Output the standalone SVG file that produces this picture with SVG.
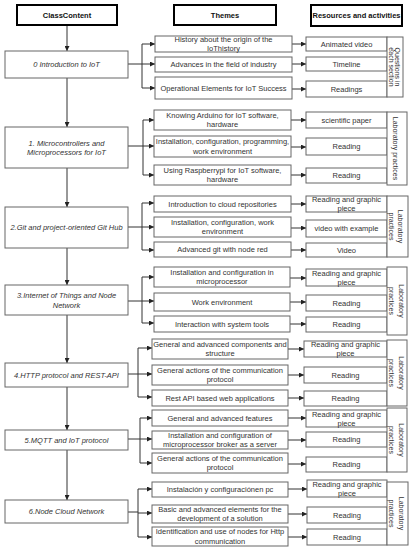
<svg xmlns="http://www.w3.org/2000/svg" width="418" height="550" viewBox="0 0 418 550">
<defs>
<marker id="ah" viewBox="0 0 6 6" refX="6" refY="3" markerWidth="5" markerHeight="5" markerUnits="userSpaceOnUse" orient="auto">
<path d="M0,0 L6,3 L0,6 z" fill="#222"/>
</marker>
<style>
.hdr rect{fill:#fff;stroke:#000;stroke-width:2}
.hdr text{font-family:"Liberation Sans",Arial,sans-serif;font-size:7.5px;font-weight:bold;fill:#111;text-anchor:middle}
.box rect{fill:#fff;stroke:#666;stroke-width:1}
.box text{font-family:"Liberation Sans",Arial,sans-serif;font-size:7.5px;fill:#333;text-anchor:middle}
.node text{font-style:italic}
.side text{font-size:7px}
.con path,.con line{fill:none;stroke:#333;stroke-width:1}
.arr{marker-end:url(#ah)}
</style>
</defs>
<rect width="418" height="550" fill="#fff"/>

<g id="headers" class="hdr">
<g id="h-class"><rect x="17" y="5" width="100" height="20"/><text x="67" y="17.7">ClassContent</text></g>
<g id="h-themes"><rect x="174" y="5" width="102" height="20"/><text x="225" y="17.7">Themes</text></g>
<g id="h-res"><rect x="311" y="5" width="91" height="21"/><text x="356.5" y="18.2">Resources and activities</text></g>
</g>

<g id="connectors" class="con">
<line class="arr" x1="67" y1="26" x2="67" y2="51"/>
<line class="arr" x1="67" y1="78" x2="67" y2="127"/>
<line class="arr" x1="67" y1="168" x2="67" y2="207"/>
<line class="arr" x1="67" y1="248" x2="67" y2="285"/>
<line class="arr" x1="67" y1="315" x2="67" y2="363"/>
<line class="arr" x1="67" y1="387" x2="67" y2="430"/>
<line class="arr" x1="67" y1="450" x2="67" y2="500"/>
<!-- row 0 -->
<path d="M128,64 H142 M142,44 V88"/>
<line class="arr" x1="142" y1="44" x2="155" y2="44"/>
<line class="arr" x1="142" y1="64" x2="155" y2="64"/>
<line class="arr" x1="142" y1="88" x2="155" y2="88"/>
<line class="arr" x1="292" y1="44" x2="306" y2="44"/>
<line class="arr" x1="292" y1="64" x2="306" y2="64"/>
<line class="arr" x1="292" y1="89" x2="306" y2="89"/>
<!-- row 1 -->
<path d="M128,146 H143 M143,120 V175"/>
<line class="arr" x1="143" y1="120" x2="154" y2="120"/>
<line class="arr" x1="143" y1="146" x2="154" y2="146"/>
<line class="arr" x1="143" y1="175" x2="154" y2="175"/>
<line class="arr" x1="291" y1="120" x2="306" y2="120"/>
<line class="arr" x1="291" y1="147" x2="306" y2="147"/>
<line class="arr" x1="291" y1="175" x2="306" y2="175"/>
<!-- row 2 -->
<path d="M128,227 H142 M142,203 V250"/>
<line class="arr" x1="142" y1="203" x2="154" y2="203"/>
<line class="arr" x1="142" y1="227" x2="154" y2="227"/>
<line class="arr" x1="142" y1="250" x2="154" y2="250"/>
<line class="arr" x1="291" y1="204" x2="306" y2="204"/>
<line class="arr" x1="291" y1="228" x2="306" y2="228"/>
<line class="arr" x1="291" y1="250" x2="306" y2="250"/>
<!-- row 3 -->
<path d="M128,301 H142 M142,277 V323"/>
<line class="arr" x1="142" y1="277" x2="154" y2="277"/>
<line class="arr" x1="142" y1="301" x2="154" y2="301"/>
<line class="arr" x1="142" y1="323" x2="154" y2="323"/>
<line class="arr" x1="290" y1="278" x2="306" y2="278"/>
<line class="arr" x1="290" y1="302" x2="306" y2="302"/>
<line class="arr" x1="290" y1="324" x2="306" y2="324"/>
<!-- row 4 -->
<path d="M128,374 H138 M138,348 V397"/>
<line class="arr" x1="138" y1="348" x2="152" y2="348"/>
<line class="arr" x1="138" y1="374" x2="152" y2="374"/>
<line class="arr" x1="138" y1="397" x2="152" y2="397"/>
<line class="arr" x1="288" y1="349" x2="304" y2="349"/>
<line class="arr" x1="288" y1="375" x2="304" y2="375"/>
<line class="arr" x1="288" y1="398" x2="304" y2="398"/>
<!-- row 5 -->
<path d="M128,439 H140 M140,418 V463"/>
<line class="arr" x1="140" y1="418" x2="152" y2="418"/>
<line class="arr" x1="140" y1="439" x2="152" y2="439"/>
<line class="arr" x1="140" y1="463" x2="152" y2="463"/>
<line class="arr" x1="288" y1="418" x2="306" y2="418"/>
<line class="arr" x1="288" y1="440" x2="306" y2="440"/>
<line class="arr" x1="288" y1="464" x2="306" y2="464"/>
<!-- row 6 -->
<path d="M128,512 H138 M138,489 V537"/>
<line class="arr" x1="138" y1="489" x2="152" y2="489"/>
<line class="arr" x1="138" y1="513" x2="152" y2="513"/>
<line class="arr" x1="138" y1="537" x2="152" y2="537"/>
<line class="arr" x1="288" y1="489" x2="307" y2="489"/>
<line class="arr" x1="288" y1="514" x2="307" y2="514"/>
<line class="arr" x1="288" y1="537" x2="307" y2="537"/>
</g>

<g id="nodes" class="box">
<g id="n0" class="node"><rect x="5" y="51" width="123" height="27"/><text x="66.5" y="67.3">0 Introduction to IoT</text></g>
<g id="n1" class="node"><rect x="5" y="127" width="123" height="41"/><text x="66.5" y="145.5">1. Microcontrollers and</text><text x="66.5" y="155">Microprocessors for IoT</text></g>
<g id="n2" class="node"><rect x="5" y="207" width="123" height="41"/><text x="66.5" y="230.3">2.Git and project-oriented Git Hub</text></g>
<g id="n3" class="node"><rect x="5" y="285" width="123" height="30"/><text x="66.5" y="298">3.Internet of Things and Node</text><text x="66.5" y="307.5">Network</text></g>
<g id="n4" class="node"><rect x="5" y="363" width="123" height="24"/><text x="66.5" y="377.7">4.HTTP protocol and REST-API</text></g>
<g id="n5" class="node"><rect x="5" y="430" width="123" height="20"/><text x="66.5" y="442.7">5.MQTT and IoT protocol</text></g>
<g id="n6" class="node"><rect x="5" y="500" width="123" height="23"/><text x="66.5" y="514.2">6.Node Cloud Network</text></g>

<g id="t0a"><rect x="155" y="36" width="137" height="16"/><text x="223.5" y="42">History about the origin of the</text><text x="223.5" y="51">IoThistory</text></g>
<g id="t0b"><rect x="155" y="57" width="137" height="15"/><text x="223.5" y="67.2">Advances in the field of industry</text></g>
<g id="t0c"><rect x="155" y="77" width="137" height="22"/><text x="223.5" y="90.7">Operational Elements for IoT Success</text></g>
<g id="t1a"><rect x="154" y="110" width="137" height="20"/><text x="222.5" y="117.5">Knowing Arduino for IoT software,</text><text x="222.5" y="127">hardware</text></g>
<g id="t1b"><rect x="154" y="136" width="137" height="21"/><text x="222.5" y="144">Installation, configuration, programming,</text><text x="222.5" y="153.5">work environment</text></g>
<g id="t1c"><rect x="154" y="165" width="137" height="20"/><text x="222.5" y="172.5">Using Raspberrypi for IoT software,</text><text x="222.5" y="182">hardware</text></g>
<g id="t2a"><rect x="154" y="196" width="137" height="16"/><text x="222.5" y="206.7">Introduction to cloud repositories</text></g>
<g id="t2b"><rect x="154" y="217" width="137" height="20"/><text x="222.5" y="224.5">Installation, configuration, work</text><text x="222.5" y="234">environment</text></g>
<g id="t2c"><rect x="154" y="242" width="137" height="15"/><text x="222.5" y="252.2">Advanced git with node red</text></g>
<g id="t3a"><rect x="154" y="267" width="136" height="20"/><text x="222" y="274.5">Installation and configuration in</text><text x="222" y="284">microprocessor</text></g>
<g id="t3b"><rect x="154" y="293" width="136" height="18"/><text x="222" y="304.7">Work environment</text></g>
<g id="t3c"><rect x="154" y="316" width="136" height="16"/><text x="222" y="326.7">Interaction with system tools</text></g>
<g id="t4a"><rect x="152" y="339" width="136" height="20"/><text x="220" y="346.5">General and advanced components and</text><text x="220" y="356">structure</text></g>
<g id="t4b"><rect x="152" y="365" width="136" height="20"/><text x="220" y="372.5">General actions of the communication</text><text x="220" y="382">protocol</text></g>
<g id="t4c"><rect x="152" y="390" width="136" height="16"/><text x="220" y="400.7">Rest API based web applications</text></g>
<g id="t5a"><rect x="152" y="410" width="136" height="16"/><text x="220" y="420.7">General and advanced features</text></g>
<g id="t5b"><rect x="152" y="431" width="136" height="18"/><text x="220" y="437.5">Installation and configuration of</text><text x="220" y="447">microprocessor broker as a server</text></g>
<g id="t5c"><rect x="152" y="453" width="136" height="20"/><text x="220" y="460.5">General actions of the communication</text><text x="220" y="470">protocol</text></g>
<g id="t6a"><rect x="152" y="482" width="136" height="15"/><text x="220" y="492.2">Instalación y configuraciónen pc</text></g>
<g id="t6b"><rect x="152" y="505" width="136" height="18"/><text x="220" y="511.5">Basic and advanced elements for the</text><text x="220" y="521">development of a solution</text></g>
<g id="t6c"><rect x="152" y="527" width="136" height="19"/><text x="220" y="534">Identification and use of nodes for Http</text><text x="220" y="543.5">communication</text></g>

<g id="r0a"><rect x="306" y="37" width="81" height="14"/><text x="346.5" y="46.7">Animated video</text></g>
<g id="r0b"><rect x="306" y="57" width="81" height="14"/><text x="346.5" y="66.7">Timeline</text></g>
<g id="r0c"><rect x="306" y="81" width="81" height="16"/><text x="346.5" y="91.7">Readings</text></g>
<g id="r1a"><rect x="306" y="112" width="81" height="16"/><text x="346.5" y="122.7">scientific paper</text></g>
<g id="r1b"><rect x="306" y="138" width="81" height="17"/><text x="346.5" y="149.2">Reading</text></g>
<g id="r1c"><rect x="306" y="168" width="81" height="15"/><text x="346.5" y="178.2">Reading</text></g>
<g id="r2a"><rect x="306" y="196" width="81" height="16"/><text x="346.5" y="202">Reading and graphic</text><text x="346.5" y="211">piece</text></g>
<g id="r2b"><rect x="306" y="220" width="81" height="17"/><text x="346.5" y="231.2">video with example</text></g>
<g id="r2c"><rect x="306" y="243" width="81" height="14"/><text x="346.5" y="252.7">Video</text></g>
<g id="r3a"><rect x="306" y="269" width="81" height="17"/><text x="346.5" y="276">Reading and graphic</text><text x="346.5" y="285">piece</text></g>
<g id="r3b"><rect x="306" y="295" width="81" height="16"/><text x="346.5" y="305.7">Reading</text></g>
<g id="r3c"><rect x="306" y="317" width="81" height="15"/><text x="346.5" y="327.2">Reading</text></g>
<g id="r4a"><rect x="304" y="341" width="83" height="16"/><text x="345.5" y="347">Reading and graphic</text><text x="345.5" y="356">piece</text></g>
<g id="r4b"><rect x="304" y="367" width="83" height="16"/><text x="345.5" y="377.7">Reading</text></g>
<g id="r4c"><rect x="304" y="391" width="83" height="15"/><text x="345.5" y="401.2">Reading</text></g>
<g id="r5a"><rect x="306" y="410" width="81" height="17"/><text x="346.5" y="416.5">Reading and graphic</text><text x="346.5" y="425.5">piece</text></g>
<g id="r5b"><rect x="306" y="432" width="81" height="15"/><text x="346.5" y="442.2">Reading</text></g>
<g id="r5c"><rect x="306" y="457" width="81" height="15"/><text x="346.5" y="467.2">Reading</text></g>
<g id="r6a"><rect x="307" y="480" width="80" height="17"/><text x="347" y="486.5">Reading and graphic</text><text x="347" y="495.5">piece</text></g>
<g id="r6b"><rect x="307" y="507" width="80" height="16"/><text x="347" y="517.7">Reading</text></g>
<g id="r6c"><rect x="307" y="529" width="80" height="16"/><text x="347" y="539.7">Reading</text></g>

<g id="s0" class="side"><rect x="387" y="37" width="16" height="60"/><text transform="translate(394.5,67) rotate(90)">Questions in</text><text transform="translate(388.5,67) rotate(90)">each section</text></g>
<g id="s1" class="side"><rect x="387" y="112" width="20" height="73"/><text transform="translate(392.5,148.5) rotate(90)">Laboratory practices</text></g>
<g id="s2" class="side"><rect x="387" y="196" width="21" height="61"/><text transform="translate(397.5,226.5) rotate(90)">Laboratory</text><text transform="translate(389,226.5) rotate(90)">practices</text></g>
<g id="s3" class="side"><rect x="387" y="267" width="20" height="68"/><text transform="translate(398.5,301) rotate(90)">Laboratory</text><text transform="translate(389,301) rotate(90)">practices</text></g>
<g id="s4" class="side"><rect x="387" y="340" width="20" height="66"/><text transform="translate(398.5,373) rotate(90)">Laboratory</text><text transform="translate(389,373) rotate(90)">practices</text></g>
<g id="s5" class="side"><rect x="387" y="408" width="20" height="64"/><text transform="translate(398.5,440) rotate(90)">Laboratory</text><text transform="translate(389,440) rotate(90)">practices</text></g>
<g id="s6" class="side"><rect x="387" y="482" width="21" height="63"/><text transform="translate(398.5,513.5) rotate(90)">Laboratory</text><text transform="translate(389,513.5) rotate(90)">practices</text></g>
</g>
</svg>
